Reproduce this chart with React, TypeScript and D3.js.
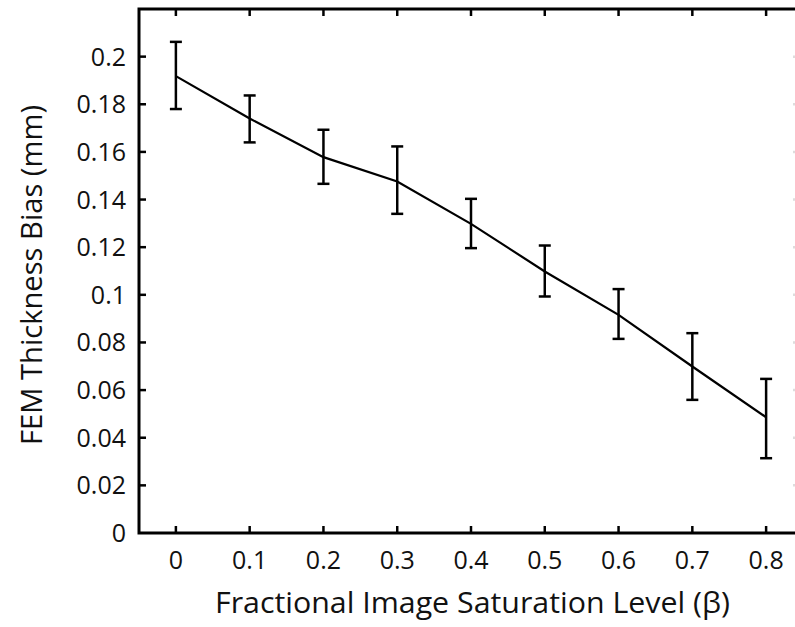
import React from "react";
import * as d3 from "d3";

const betaLevels = [0, 0.1, 0.2, 0.3, 0.4, 0.5, 0.6, 0.7, 0.8];
const meanBias = [0.1918, 0.174, 0.1578, 0.1476, 0.1298, 0.1098, 0.0916, 0.0699, 0.0486];
const upperBias = [0.2062, 0.1837, 0.1693, 0.1623, 0.1403, 0.1207, 0.1024, 0.0839, 0.0647];
const lowerBias = [0.178, 0.164, 0.1466, 0.134, 0.1196, 0.0993, 0.0815, 0.0559, 0.0314];
const xTicks = [0, 0.1, 0.2, 0.3, 0.4, 0.5, 0.6, 0.7, 0.8];
const yTicks = [0, 0.02, 0.04, 0.06, 0.08, 0.1, 0.12, 0.14, 0.16, 0.18, 0.2];
const xLabel = "Fractional Image Saturation Level (β)";
const yLabel = "FEM Thickness Bias (mm)";

const W = 795;
const H = 627;
const left = 139;
const right = 803;
const top = 9;
const bottom = 533;

export default function App() {
  const x = d3.scaleLinear().domain([-0.05, 0.85]).range([left, right]);
  const y = d3.scaleLinear().domain([0, 0.22]).range([bottom, top]);
  const line = d3
    .line<number>()
    .x((_, i) => x(betaLevels[i]))
    .y((d) => y(d));
  const font = "'Open Sans', sans-serif";
  const tickLen = 7;
  const cap = 6;
  const fmt = (v: number) => (v === 0 ? "0" : String(+v.toFixed(2)));

  return (
    <svg
      width={W}
      height={H}
      viewBox={`0 0 ${W} ${H}`}
      style={{ position: "absolute", left: 0, top: 0, background: "#fff" }}
    >
      <rect x={0} y={0} width={W} height={H} fill="#fff" />
      {/* ticks */}
      <g stroke="#000" strokeWidth={2.5}>
        {xTicks.map((t) => (
          <g key={"xt" + t}>
            <line x1={x(t)} x2={x(t)} y1={bottom} y2={bottom - tickLen} />
            <line x1={x(t)} x2={x(t)} y1={top} y2={top + tickLen} />
          </g>
        ))}
        {yTicks.filter((t) => t > 0).map((t) => (
          <g key={"yt" + t}>
            <line x1={left} x2={left + tickLen} y1={y(t)} y2={y(t)} />
            <line x1={right} x2={right - tickLen - 3} y1={y(t)} y2={y(t)} stroke="#ddd" />
          </g>
        ))}
      </g>
      {/* frame */}
      <path
        d={`M${left},${top}H${right}V${bottom}H${left}Z`}
        fill="none"
        stroke="#000"
        strokeWidth={3}
      />
      {/* tick labels */}
      <g fontFamily={font} fontSize={25} fill="#111">
        {xTicks.map((t) => (
          <text key={"xl" + t} x={x(t)} y={bottom + 36} textAnchor="middle">
            {fmt(t)}
          </text>
        ))}
        {yTicks.map((t) => (
          <text key={"yl" + t} x={126} y={y(t) + 9} textAnchor="end">
            {fmt(t)}
          </text>
        ))}
      </g>
      {/* error bars */}
      <g stroke="#000" strokeWidth={2.5} fill="none">
        {betaLevels.map((b, i) => (
          <g key={"eb" + i}>
            <line x1={x(b)} x2={x(b)} y1={y(upperBias[i])} y2={y(lowerBias[i])} />
            <line x1={x(b) - cap} x2={x(b) + cap} y1={y(upperBias[i])} y2={y(upperBias[i])} />
            <line x1={x(b) - cap} x2={x(b) + cap} y1={y(lowerBias[i])} y2={y(lowerBias[i])} />
          </g>
        ))}
      </g>
      <path d={line(meanBias) || ""} fill="none" stroke="#000" strokeWidth={2.2} />
      {/* axis titles */}
      <text
        x={472.5}
        y={613}
        textAnchor="middle"
        fontFamily={font}
        fontSize={30}
        fill="#111"
        textLength={515}
        lengthAdjust="spacingAndGlyphs"
      >
        {xLabel}
      </text>
      <text
        transform="translate(42,275) rotate(-90)"
        textAnchor="middle"
        fontFamily={font}
        fontSize={30}
        fill="#111"
        textLength={340}
        lengthAdjust="spacingAndGlyphs"
      >
        {yLabel}
      </text>
    </svg>
  );
}
